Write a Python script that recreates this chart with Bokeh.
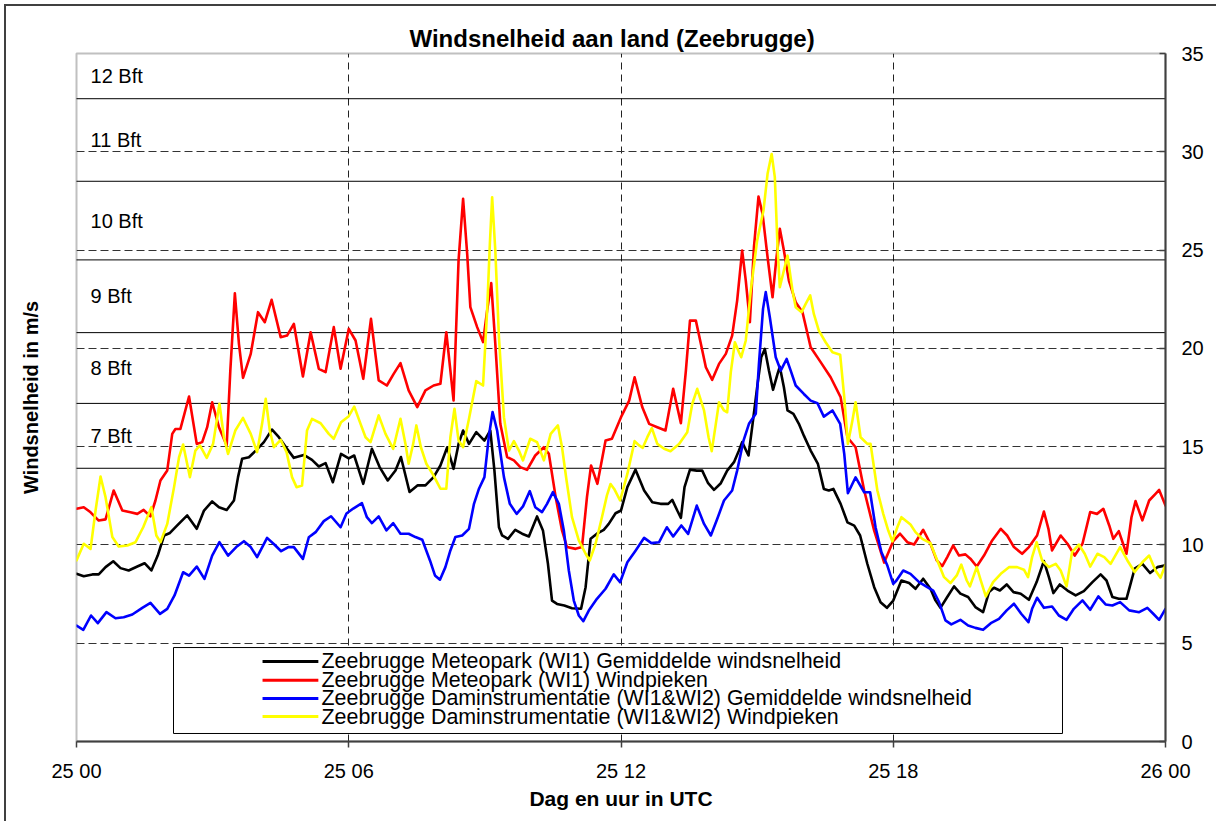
import math
from bokeh.plotting import figure
from bokeh.models import Range1d, FixedTicker, Label, Arrow, LinearAxis
from bokeh.embed import file_html
from bokeh.resources import INLINE
from bokeh.core.properties import value

FONT = "Liberation Sans"

# ---------------- data ----------------
x_tick_values = [0, 6, 12, 18, 24]
x_tick_labels = ["25 00", "25 06", "25 12", "25 18", "26 00"]
y_tick_values = [0, 5, 10, 15, 20, 25, 30, 35]

bft_limits = [13.9, 17.2, 20.8, 24.5, 28.5, 32.7]
bft_names = ["7 Bft", "8 Bft", "9 Bft", "10 Bft", "11 Bft", "12 Bft"]

series_names = [
    "Zeebrugge Meteopark (WI1) Gemiddelde windsnelheid",
    "Zeebrugge Meteopark (WI1) Windpieken",
    "Zeebrugge Daminstrumentatie (WI1&WI2) Gemiddelde windsnelheid",
    "Zeebrugge Daminstrumentatie (WI1&WI2) Windpieken",
]

black_h = [0.00, 0.16, 0.35, 0.49, 0.64, 0.81, 0.97, 1.15, 1.34, 1.50, 1.65, 1.79, 1.93, 2.06, 2.22, 2.44,
           2.65, 2.81, 2.99, 3.14, 3.31, 3.47, 3.56, 3.65, 3.80, 3.95, 4.13, 4.31, 4.46, 4.64, 4.79, 5.01,
           5.19, 5.34, 5.49, 5.65, 5.83, 6.00, 6.12, 6.32, 6.51, 6.68, 6.86, 7.03, 7.15, 7.34, 7.52, 7.69,
           7.87, 8.02, 8.17, 8.31, 8.42, 8.52, 8.65, 8.81, 8.99, 9.12, 9.21, 9.31, 9.38, 9.51, 9.67, 9.82,
           9.97, 10.15, 10.28, 10.39, 10.48, 10.59, 10.75, 10.92, 11.12, 11.22, 11.33, 11.47, 11.62, 11.73,
           11.88, 12.00, 12.14, 12.32, 12.51, 12.69, 12.87, 13.04, 13.13, 13.24, 13.32, 13.40, 13.52, 13.67,
           13.79, 13.92, 14.05, 14.20, 14.34, 14.49, 14.60, 14.67, 14.81, 14.90, 15.01, 15.09, 15.17, 15.26,
           15.35, 15.45, 15.50, 15.59, 15.67, 15.80, 15.92, 16.03, 16.18, 16.34, 16.47, 16.58, 16.68, 16.84,
           16.99, 17.14, 17.27, 17.43, 17.58, 17.72, 17.86, 18.00, 18.18, 18.35, 18.49, 18.66, 18.82, 18.93,
           19.04, 19.19, 19.34, 19.48, 19.65, 19.81, 19.98, 20.11, 20.22, 20.35, 20.50, 20.65, 20.81, 20.99,
           21.16, 21.32, 21.43, 21.53, 21.67, 21.84, 22.02, 22.20, 22.39, 22.57, 22.70, 22.83, 22.97, 23.14,
           23.23, 23.32, 23.49, 23.66, 23.82, 24.00]
black_v = [8.53, 8.41, 8.50, 8.50, 8.87, 9.17, 8.82, 8.70, 8.90, 9.07, 8.70, 9.46, 10.48, 10.61, 10.99, 11.50,
           10.82, 11.75, 12.21, 11.92, 11.78, 12.26, 13.45, 14.38, 14.46, 14.80, 15.23, 15.87, 15.48, 14.89, 14.43, 14.58,
           14.33, 13.99, 14.16, 13.19, 14.63, 14.40, 14.55, 13.11, 14.89, 13.96, 13.28, 13.79, 14.47, 12.69, 13.03, 13.03,
           13.45, 14.04, 14.97, 13.87, 15.14, 15.82, 15.14, 15.74, 15.31, 15.82, 13.79, 10.90, 10.48, 10.31, 10.77, 10.57,
           10.43, 11.45, 10.74, 9.04, 7.17, 7.00, 6.92, 6.78, 6.75, 7.85, 10.31, 10.57, 10.77, 11.07,
           11.61, 11.75, 12.94, 13.83, 12.77, 12.17, 12.09, 12.09, 12.29, 11.75, 11.38, 12.94, 13.83, 13.78,
           13.78, 13.14, 12.80, 13.14, 13.78, 14.21, 14.80, 15.23, 14.55, 16.16, 18.19, 19.55, 19.97, 18.87,
           17.89, 18.70, 19.07, 18.02, 16.84, 16.67, 16.16, 15.56, 14.80, 14.12, 12.85, 12.77, 12.85, 12.09,
           11.15, 10.98, 10.48, 9.03, 7.85, 7.08, 6.80, 7.17, 8.19, 8.06, 7.77, 8.28, 7.77, 7.18,
           6.80, 7.35, 7.89, 7.52, 7.35, 6.84, 6.58, 7.60, 7.82, 7.68, 7.99, 7.60, 7.52, 7.21,
           8.11, 9.18, 8.36, 7.55, 7.99, 7.68, 7.43, 7.65, 8.11, 8.50, 8.19, 7.35, 7.26, 7.26,
           8.02, 8.79, 9.04, 8.57, 8.87, 8.96]

red_h = [0.00, 0.16, 0.31, 0.49, 0.64, 0.82, 1.01, 1.19, 1.34, 1.48, 1.63, 1.74, 1.85, 2.00, 2.11, 2.18,
         2.29, 2.48, 2.65, 2.77, 2.88, 2.99, 3.14, 3.31, 3.39, 3.49, 3.58, 3.67, 3.84, 4.00, 4.15, 4.30,
         4.50, 4.64, 4.79, 4.99, 5.16, 5.34, 5.49, 5.67, 5.82, 6.00, 6.15, 6.32, 6.49, 6.66, 6.84, 6.99,
         7.14, 7.32, 7.51, 7.69, 7.87, 8.02, 8.15, 8.31, 8.42, 8.52, 8.61, 8.68, 8.83, 8.96, 9.05, 9.14,
         9.23, 9.34, 9.49, 9.64, 9.78, 9.93, 10.11, 10.30, 10.41, 10.56, 10.70, 10.81, 11.00, 11.14, 11.25, 11.34,
         11.48, 11.66, 11.80, 12.00, 12.18, 12.30, 12.47, 12.62, 12.80, 12.98, 13.15, 13.32, 13.43, 13.52, 13.65, 13.76,
         13.87, 14.01, 14.16, 14.31, 14.45, 14.56, 14.67, 14.75, 14.84, 14.93, 15.03, 15.12, 15.23, 15.34, 15.42, 15.50,
         15.59, 15.70, 15.85, 16.00, 16.18, 16.40, 16.62, 16.84, 16.99, 17.17, 17.36, 17.58, 17.80, 18.00, 18.15, 18.31,
         18.46, 18.66, 18.82, 18.96, 19.08, 19.19, 19.32, 19.45, 19.59, 19.70, 19.84, 20.00, 20.18, 20.37, 20.51, 20.66,
         20.84, 20.99, 21.17, 21.32, 21.42, 21.50, 21.69, 21.84, 22.00, 22.17, 22.34, 22.49, 22.63, 22.76, 22.85, 22.97,
         23.14, 23.25, 23.34, 23.49, 23.64, 23.78, 23.86, 24.00]
red_v = [11.84, 11.92, 11.66, 11.24, 11.30, 12.77, 11.75, 11.66, 11.58, 11.78, 11.45, 12.26, 13.28, 13.79, 15.65, 15.90,
         15.90, 17.55, 15.14, 15.23, 15.99, 17.26, 15.99, 15.06, 18.87, 22.80, 20.23, 18.50, 19.72, 21.84, 21.33, 22.47,
         20.57, 20.65, 21.25, 18.57, 20.82, 18.96, 18.79, 21.08, 18.96, 20.99, 20.40, 18.45, 21.50, 18.37, 18.11, 18.70,
         19.25, 17.86, 17.01, 17.86, 18.11, 18.20, 20.82, 17.35, 24.47, 27.61, 24.81, 22.10, 21.08, 20.32, 21.93, 23.32,
         20.23, 16.16, 14.47, 14.30, 13.96, 13.82, 14.55, 14.97, 14.64, 12.43, 10.74, 9.89, 9.80, 9.89, 12.43, 14.04,
         13.11, 15.31, 15.40, 16.50, 17.34, 18.53, 17.00, 16.16, 15.99, 15.82, 17.94, 16.19, 18.87, 21.41, 21.41, 20.23,
         19.04, 18.40, 19.21, 19.72, 20.65, 22.43, 24.98, 23.45, 21.33, 25.15, 27.72, 26.84, 24.64, 22.60, 24.47, 26.08,
         24.98, 23.45, 22.35, 21.84, 20.06, 19.30, 18.53, 17.52, 15.48, 14.97, 12.77, 10.73, 9.10, 10.20, 10.57, 10.14,
         10.02, 10.77, 10.06, 9.21, 8.92, 9.38, 9.97, 9.46, 9.52, 9.30, 8.90, 9.46, 10.23, 10.82, 10.48, 9.89,
         9.55, 9.89, 10.48, 11.70, 10.82, 9.72, 10.48, 10.06, 9.46, 10.06, 11.67, 11.58, 11.84, 10.99, 10.31, 10.70,
         9.55, 11.41, 12.23, 11.25, 12.26, 12.60, 12.80, 12.00]

blue_h = [0.00, 0.15, 0.32, 0.47, 0.66, 0.86, 1.04, 1.23, 1.45, 1.63, 1.84, 2.00, 2.16, 2.35, 2.48, 2.65,
          2.82, 2.99, 3.15, 3.34, 3.52, 3.69, 3.84, 3.98, 4.20, 4.36, 4.51, 4.67, 4.79, 4.99, 5.12, 5.27,
          5.45, 5.61, 5.82, 5.95, 6.10, 6.29, 6.40, 6.51, 6.66, 6.83, 6.98, 7.14, 7.32, 7.47, 7.62, 7.79,
          7.90, 8.01, 8.13, 8.24, 8.35, 8.50, 8.65, 8.76, 8.87, 8.99, 9.09, 9.17, 9.27, 9.42, 9.55, 9.70,
          9.84, 9.99, 10.11, 10.26, 10.37, 10.50, 10.63, 10.74, 10.85, 10.96, 11.07, 11.17, 11.29, 11.47, 11.66, 11.84,
          11.98, 12.14, 12.32, 12.51, 12.67, 12.84, 13.01, 13.15, 13.33, 13.48, 13.67, 13.83, 13.98, 14.12, 14.27, 14.45,
          14.56, 14.70, 14.82, 14.97, 15.04, 15.13, 15.19, 15.28, 15.41, 15.52, 15.65, 15.74, 15.85, 16.03, 16.18, 16.33,
          16.47, 16.66, 16.83, 16.92, 17.00, 17.17, 17.36, 17.49, 17.61, 17.74, 17.87, 18.00, 18.07, 18.22, 18.38, 18.57,
          18.75, 18.88, 19.01, 19.15, 19.28, 19.48, 19.65, 19.81, 19.98, 20.15, 20.33, 20.50, 20.66, 20.82, 20.98, 21.06,
          21.17, 21.32, 21.50, 21.65, 21.82, 21.98, 22.17, 22.34, 22.52, 22.68, 22.83, 23.00, 23.20, 23.42, 23.60, 23.73,
          23.86, 24.00]
blue_v = [5.90, 5.68, 6.41, 6.02, 6.58, 6.27, 6.32, 6.46, 6.80, 7.05, 6.49, 6.75, 7.43, 8.61, 8.44, 8.90,
          8.27, 9.46, 10.14, 9.46, 9.89, 10.19, 9.89, 9.38, 10.36, 10.02, 9.68, 9.89, 9.89, 9.29, 10.39, 10.65,
          11.21, 11.46, 10.90, 11.60, 11.85, 12.13, 11.41, 11.11, 11.45, 10.74, 11.11, 10.57, 10.57, 10.40, 10.26, 9.21,
          8.45, 8.23, 8.87, 9.72, 10.40, 10.48, 10.82, 12.09, 12.86, 13.45, 15.57, 16.76, 15.82, 13.45, 12.09, 11.58,
          11.96, 12.74, 11.92, 11.67, 12.09, 12.69, 12.09, 10.74, 8.70, 7.17, 6.41, 6.12, 6.66, 7.26, 7.77, 8.50,
          8.10, 9.12, 9.71, 10.36, 10.09, 10.14, 10.90, 10.43, 10.99, 10.56, 12.00, 11.07, 10.48, 11.32, 12.26, 12.77,
          13.78, 15.31, 16.16, 16.67, 19.21, 22.01, 22.86, 21.58, 19.55, 18.87, 19.46, 18.87, 18.11, 17.68, 17.34, 17.21,
          16.53, 16.84, 16.16, 14.63, 12.63, 13.44, 12.68, 12.68, 10.90, 9.63, 8.95, 8.02, 8.19, 8.70, 8.53, 8.11,
          7.85, 7.68, 7.09, 6.16, 5.96, 6.19, 5.90, 5.78, 5.68, 6.02, 6.24, 6.67, 7.01, 6.50, 6.07, 6.75,
          7.31, 6.80, 6.87, 6.41, 6.19, 6.75, 7.18, 6.70, 7.38, 6.97, 6.92, 7.09, 6.67, 6.58, 6.80, 6.50,
          6.19, 6.75]

yellow_h = [0.00, 0.16, 0.31, 0.42, 0.53, 0.64, 0.79, 0.93, 1.12, 1.30, 1.47, 1.65, 1.76, 1.85, 2.00, 2.15,
            2.26, 2.35, 2.50, 2.62, 2.72, 2.87, 3.01, 3.15, 3.25, 3.34, 3.50, 3.67, 3.84, 3.98, 4.09, 4.17,
            4.26, 4.35, 4.50, 4.63, 4.75, 4.85, 4.97, 5.08, 5.19, 5.38, 5.56, 5.67, 5.83, 6.00, 6.12, 6.26,
            6.37, 6.48, 6.66, 6.81, 6.98, 7.14, 7.25, 7.32, 7.42, 7.49, 7.59, 7.71, 7.87, 8.02, 8.15, 8.24,
            8.33, 8.42, 8.52, 8.65, 8.81, 8.96, 9.05, 9.11, 9.16, 9.23, 9.31, 9.42, 9.53, 9.64, 9.75, 9.84,
            10.00, 10.15, 10.30, 10.45, 10.61, 10.70, 10.80, 10.92, 11.07, 11.22, 11.31, 11.44, 11.58, 11.69, 11.77, 11.85,
            11.98, 12.14, 12.30, 12.40, 12.48, 12.58, 12.68, 12.80, 12.95, 13.09, 13.28, 13.46, 13.57, 13.68, 13.83, 13.93,
            14.00, 14.09, 14.16, 14.27, 14.34, 14.42, 14.51, 14.60, 14.65, 14.75, 14.86, 15.00, 15.14, 15.23, 15.32, 15.39,
            15.45, 15.50, 15.59, 15.67, 15.78, 15.85, 15.98, 16.07, 16.17, 16.25, 16.36, 16.51, 16.66, 16.83, 16.92, 17.00,
            17.10, 17.17, 17.28, 17.43, 17.50, 17.65, 17.78, 17.89, 17.98, 18.09, 18.18, 18.38, 18.49, 18.64, 18.82, 18.97,
            19.12, 19.26, 19.40, 19.50, 19.62, 19.69, 19.84, 19.93, 20.04, 20.20, 20.37, 20.55, 20.73, 20.88, 20.97, 21.06,
            21.16, 21.28, 21.43, 21.58, 21.69, 21.82, 21.94, 22.09, 22.22, 22.34, 22.50, 22.65, 22.79, 23.00, 23.16, 23.32,
            23.49, 23.64, 23.78, 23.89, 24.00]
yellow_v = [9.21, 10.06, 9.80, 11.75, 13.48, 12.43, 10.40, 9.92, 9.97, 10.14, 10.90, 11.92, 10.48, 10.14, 11.07, 12.94,
            14.46, 15.11, 13.45, 14.80, 15.06, 14.43, 15.14, 17.18, 15.48, 14.63, 15.82, 16.46, 15.65, 14.72, 16.16, 17.43,
            15.82, 14.97, 15.35, 14.72, 13.45, 12.94, 13.02, 15.82, 16.41, 16.19, 15.65, 15.40, 16.24, 16.55, 17.04, 16.16,
            15.48, 15.23, 16.59, 15.65, 14.89, 16.42, 15.14, 14.13, 15.14, 16.08, 14.97, 14.13, 13.53, 12.86, 12.86, 15.48,
            16.93, 15.31, 14.97, 16.42, 18.33, 18.11, 21.93, 25.32, 27.69, 24.98, 20.57, 16.50, 14.80, 15.28, 14.80, 14.30,
            15.40, 15.23, 14.30, 15.65, 16.08, 14.97, 13.28, 11.41, 10.23, 9.55, 9.21, 10.06, 11.41, 12.52, 13.10, 12.85,
            12.26, 13.61, 15.28, 15.06, 14.94, 15.48, 15.94, 15.14, 14.89, 14.77, 15.14, 15.73, 17.17, 17.94, 16.84, 15.48,
            14.77, 16.16, 17.26, 16.84, 16.75, 18.79, 20.31, 19.80, 19.55, 20.40, 22.94, 25.48, 27.01, 28.88, 29.89, 28.71,
            25.15, 23.11, 23.96, 24.72, 22.94, 22.09, 21.84, 22.26, 22.69, 21.75, 20.90, 20.31, 19.80, 19.68, 17.52, 15.14,
            16.33, 17.26, 15.48, 15.14, 15.14, 12.77, 11.58, 10.73, 10.18, 10.90, 11.41, 11.04, 10.65, 10.31, 10.09, 9.21,
            8.36, 8.06, 8.45, 9.00, 8.19, 7.89, 8.87, 8.19, 7.38, 8.11, 8.53, 8.87, 8.87, 8.74, 8.36, 9.38,
            10.14, 9.21, 8.87, 9.04, 8.70, 7.89, 9.63, 10.02, 9.55, 8.90, 9.55, 9.38, 9.04, 9.89, 9.21, 8.62,
            9.12, 9.46, 8.70, 8.33, 9.00]

# ---------------- figure ----------------
p = figure(frame_width=1089, frame_height=688,
           x_range=Range1d(0, 24), y_range=Range1d(0, 35),
           y_axis_location="right",
           min_border_left=70, min_border_right=51, min_border_top=47, min_border_bottom=80,
           output_backend="svg", toolbar_location=None)
p.styles = {"border-left": "2px solid #404040", "border-top": "2px solid #404040",
            "margin-left": "4px", "margin-top": "4px"}
p.background_fill_color = "white"
p.border_fill_color = "white"
p.outline_line_color = "#c0c0c0"
p.outline_line_width = 2

# title
p.title.text = "Windsnelheid aan land (Zeebrugge)"
p.title.align = "left"
p.title.offset = 333
p.title.standoff = 4
p.title.text_font = FONT
p.title.text_font_size = "24px"
p.title.text_font_style = "bold"
p.title.text_color = "black"

# x axis
xa = p.xaxis[0]
xa.ticker = FixedTicker(ticks=x_tick_values)
xa.major_label_overrides = {v: s for v, s in zip(x_tick_values, x_tick_labels)}
xa.minor_tick_line_color = None
xa.major_tick_in = 0
xa.major_tick_out = 6
xa.major_tick_line_color = "#404040"
xa.major_tick_line_width = 1.5
xa.axis_line_color = "#404040"
xa.axis_line_width = 2
xa.major_label_standoff = 12
xa.major_label_text_font = FONT
xa.major_label_text_font_size = "20px"
xa.major_label_text_color = "black"
xa.axis_label = "Dag en uur in UTC"
xa.axis_label_text_font = FONT
xa.axis_label_text_font_size = "21px"
xa.axis_label_text_font_style = "bold"
xa.axis_label_text_color = "black"
xa.axis_label_standoff = 2

# y axis (right)
ya = p.yaxis[0]
ya.ticker = FixedTicker(ticks=y_tick_values)
ya.minor_tick_line_color = None
ya.major_tick_in = 6
ya.major_tick_out = 0
ya.major_tick_line_color = "#404040"
ya.major_tick_line_width = 1.5
ya.axis_line_color = "#404040"
ya.axis_line_width = 2
ya.major_label_standoff = 16
ya.major_label_text_font = FONT
ya.major_label_text_font_size = "20px"
ya.major_label_text_color = "black"

# y axis title on the left (axis without ticks, only its title)
la = LinearAxis(ticker=FixedTicker(ticks=[]), axis_label="Windsnelheid in m/s",
                axis_line_color=None, major_tick_line_color=None, minor_tick_line_color=None,
                major_tick_in=0, major_tick_out=0, major_label_standoff=0,
                axis_label_standoff=35, axis_label_text_font=FONT, axis_label_text_font_size="20px",
                axis_label_text_font_style="bold", axis_label_text_color="black")
p.add_layout(la, "left")

# grids
p.xgrid.ticker = FixedTicker(ticks=[6, 12, 18])
p.ygrid.ticker = FixedTicker(ticks=[5, 10, 15, 20, 25, 30])
p.xgrid.grid_line_color = "#222222"
p.xgrid.grid_line_dash = "7 5"
p.xgrid.grid_line_width = 1
p.ygrid.grid_line_color = "#333333"
p.ygrid.grid_line_dash = "8 4"
p.ygrid.grid_line_width = 1

# Beaufort limits
for lim in bft_limits:
    p.add_layout(Arrow(start=None, end=None, x_start=-0.154, x_end=24.154, y_start=lim, y_end=lim,
                       line_color="black", line_width=1, level="underlay"))
bft_edges = bft_limits + [35]
for i, name in enumerate(bft_names):
    mid = (bft_edges[i] + bft_edges[i + 1]) / 2
    p.add_layout(Label(x=0.31, y=mid, text=name, text_font=FONT, text_font_size="20px",
                       text_color="black", text_align="left", text_baseline="middle"))

# series
colors = ["black", "#ff0000", "#0000ff", "#ffff00"]
data = [(black_h, black_v), (red_h, red_v), (blue_h, blue_v), (yellow_h, yellow_v)]
for (hh, vv), c in zip(data, colors):
    p.line(hh, vv, line_color=c, line_width=2.6, line_join="round", line_cap="round")

# legend (box, samples, labels)
leg_rows = [4.07, 3.12, 2.19, 1.27]
p.quad(left=[2.138], right=[21.73], bottom=[0.407], top=[4.78],
       fill_color="white", line_color="black", line_width=1)
p.segment(x0=[4.10] * 4, x1=[5.33] * 4, y0=leg_rows, y1=leg_rows, line_color=colors, line_width=3)
p.text(x=[5.40] * 4, y=leg_rows, text=series_names, text_font=value(FONT),
       text_font_size=value("21.4px"), text_color="black", text_align="left", text_baseline="middle")

open("out.html", "w").write(file_html(p, INLINE))
